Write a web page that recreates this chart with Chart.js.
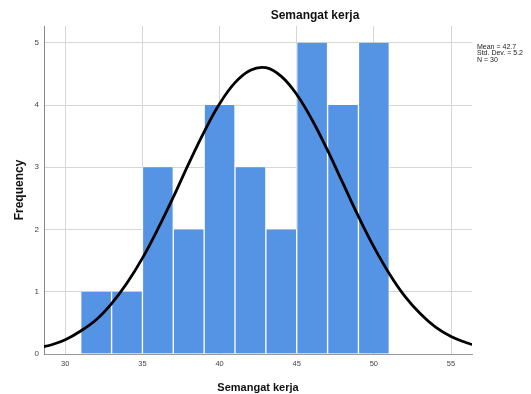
<!DOCTYPE html>
<html>
<head>
<meta charset="utf-8">
<script src="https://cdn.jsdelivr.net/npm/chart.js@4/dist/chart.umd.min.js"></script>
<style>
  html, body { margin: 0; padding: 0; background: #fff; }
  #wrap { width: 531px; height: 394px; }
</style>
</head>
<body>
<div id="wrap"><canvas id="histChart" width="531" height="394"></canvas></div>
<script>
// histogram bins (centre of each 2-wide bin) and counts
const binCenters = [32, 34, 36, 38, 40, 42, 44, 46, 48, 50];
const binCounts = [1, 1, 3, 2, 4, 3, 2, 5, 4, 5];

// normal curve
const curveX = [28.6, 29, 30, 31, 32, 33, 34, 35, 36, 37, 38, 39, 40, 41, 42, 43, 44, 45, 46, 47, 48, 49, 50, 51, 52, 53, 54, 55, 56, 56.4];
const curveY = [0.12, 0.14, 0.23, 0.37, 0.55, 0.81, 1.14, 1.54, 2.01, 2.52, 3.06, 3.57, 4.02, 4.36, 4.56, 4.6, 4.46, 4.17, 3.76, 3.27, 2.74, 2.21, 1.72, 1.29, 0.93, 0.65, 0.43, 0.28, 0.18, 0.15];

const xTicks = [30, 35, 40, 45, 50, 55];
const yTicks = [0, 1, 2, 3, 4, 5];

const statLines = ["Mean = 42.7", "Std. Dev. = 5.2", "N = 30"];
const chartTitle = "Semangat kerja";
const xTitle = "Semangat kerja";
const yTitle = "Frequency";

const FONT = "'Liberation Sans', Arial, sans-serif";

const textPlugin = {
  id: "spssText",
  afterDraw(c) {
    const ctx = c.ctx;
    const area = c.chartArea;
    ctx.save();
    ctx.fillStyle = "#111";
    ctx.textAlign = "center";
    ctx.textBaseline = "middle";
    ctx.font = "bold 12px " + FONT;
    ctx.fillText(chartTitle, 315, 16);
    ctx.font = "bold 11px " + FONT;
    ctx.fillText(xTitle, (area.left + area.right) / 2, 388);
    ctx.save();
    ctx.translate(20, 190);
    ctx.rotate(-Math.PI / 2);
    ctx.font = "bold 12px " + FONT;
    ctx.fillText(yTitle, 0, 0);
    ctx.restore();
    ctx.textAlign = "left";
    ctx.font = "7px " + FONT;
    ctx.fillStyle = "#222";
    statLines.forEach((s, i) => ctx.fillText(s, area.right + 5, 47 + i * 6.5));
    ctx.restore();
  }
};

const ctx = document.getElementById("histChart").getContext("2d");
const chart = new Chart(ctx, {
  type: "bar",
  data: {
    datasets: [
      {
        type: "line",
        data: curveX.map((x, i) => ({ x: x, y: curveY[i] })),
        borderColor: "#000",
        borderWidth: 2.8,
        pointRadius: 0,
        tension: 0.4,
        fill: false,
        order: 0
      },
      {
        type: "bar",
        data: binCenters.map((x, i) => ({ x: x, y: binCounts[i] })),
        backgroundColor: "#5594e4",
        borderColor: "#fff",
        borderWidth: { left: 1, right: 1, top: 0, bottom: 0 },
        borderSkipped: false,
        barPercentage: 1,
        categoryPercentage: 1,
        order: 1
      }
    ]
  },
  options: {
    responsive: false,
    animation: false,
    layout: { padding: { top: 26, right: 59, left: 0, bottom: 0 } },
    plugins: { legend: { display: false }, tooltip: { enabled: false } },
    scales: {
      x: {
        type: "linear",
        min: 28.62,
        max: 56.36,
        offset: false,
        afterFit: s => { s.height = 40; },
        afterBuildTicks: s => { s.ticks = xTicks.map(v => ({ value: v })); },
        ticks: {
          autoSkip: false,
          maxRotation: 0,
          padding: 5,
          color: "#444",
          font: { size: 7.5, family: FONT }
        },
        grid: {
          offset: false,
          drawTicks: false,
          color: "#d6d6d6",
          lineWidth: 1
        },
        border: { color: "#9a9a9a", width: 1 }
      },
      y: {
        min: 0,
        max: 5.27,
        afterFit: s => { s.width = 44; },
        afterBuildTicks: s => { s.ticks = yTicks.map(v => ({ value: v })); },
        ticks: {
          padding: 5,
          color: "#444",
          font: { size: 8, family: FONT }
        },
        grid: {
          drawTicks: false,
          color: c => (c.tick && c.tick.value > 0 ? "#d6d6d6" : "rgba(0,0,0,0)"),
          lineWidth: 1
        },
        border: { color: "#8a8a8a", width: 1 }
      }
    }
  },
  plugins: [textPlugin]
});
</script>
</body>
</html>
